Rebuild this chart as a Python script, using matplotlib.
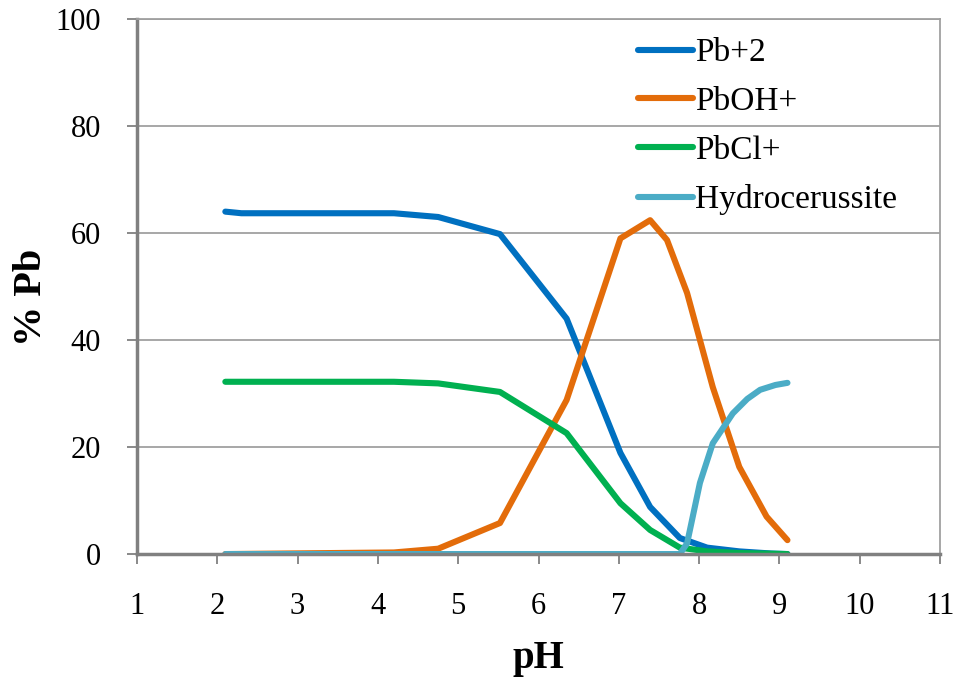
import matplotlib.pyplot as plt

plt.rcParams['font.family'] = ['Liberation Serif', 'DejaVu Serif']

# pH values and % Pb for each species
ph_pb2 = [2.1, 2.3, 4.2, 4.75, 5.52, 6.35, 7.02, 7.39, 7.76, 8.1, 8.5, 8.9, 9.1]
pb2 = [64.0, 63.7, 63.7, 63.0, 59.8, 44.0, 18.9, 8.8, 3.0, 1.2, 0.5, 0.1, 0.0]

ph_pboh = [2.1, 4.2, 4.75, 5.52, 6.35, 7.02, 7.39, 7.6, 7.85, 8.17, 8.5, 8.84, 9.1]
pboh = [0.0, 0.3, 1.0, 5.8, 28.8, 59.0, 62.4, 58.7, 48.8, 31.2, 16.3, 7.0, 2.6]

ph_pbcl = [2.1, 4.2, 4.75, 5.52, 6.35, 7.02, 7.39, 7.76, 8.1, 8.5, 9.1]
pbcl = [32.2, 32.2, 31.9, 30.3, 22.6, 9.5, 4.5, 1.2, 0.5, 0.2, 0.0]

ph_hyd = [2.1, 7.76, 7.85, 8.01, 8.17, 8.42, 8.6, 8.76, 8.95, 9.1]
hyd = [0.0, 0.0, 2.0, 13.3, 20.7, 26.3, 29.0, 30.7, 31.6, 32.0]

fig = plt.figure(figsize=(9.56, 6.79), dpi=100)
ax = fig.add_axes([0.1433, 0.184, 0.84, 0.788])

lw = 4.4
ax.plot(ph_pb2, pb2, color="#0070C0", lw=lw, label="Pb+2", solid_capstyle="round")
ax.plot(ph_pboh, pboh, color="#E36C0A", lw=lw, label="PbOH+", solid_capstyle="round")
ax.plot(ph_pbcl, pbcl, color="#00B050", lw=lw, label="PbCl+", solid_capstyle="round")
ax.plot(ph_hyd, hyd, color="#4BACC6", lw=lw, label="Hydrocerussite", solid_capstyle="round")

ax.set_xlim(1, 11)
ax.set_ylim(0, 100)
ax.set_xticks(range(1, 12))
ax.set_yticks(range(0, 101, 20))
ax.yaxis.grid(True, color="#A0A0A0", lw=1.3)
ax.set_axisbelow(True)

for side in ["left", "bottom"]:
    ax.spines[side].set_color("#808080")
    ax.spines[side].set_linewidth(2.5)
for side in ["top", "right"]:
    ax.spines[side].set_color("#A0A0A0")
    ax.spines[side].set_linewidth(1.3)
ax.tick_params(direction="out", length=7, width=1.3, color="#808080", labelsize=22)
ax.tick_params(axis="x", pad=20)
ax.tick_params(axis="y", pad=19)

ax.set_xlabel("pH", fontsize=28, fontweight="bold")
ax.set_ylabel("% Pb", fontsize=29, fontweight="bold")
ax.xaxis.set_label_coords(0.5, -0.16)
ax.yaxis.set_label_coords(-0.108, 0.48)

ax.legend(loc="upper left", bbox_to_anchor=(0.624, 0.965), frameon=False, fontsize=24,
          borderpad=0, borderaxespad=0, handlelength=1.65, handletextpad=0.05,
          labelspacing=0.55)

fig.savefig("out.png", dpi=100)
